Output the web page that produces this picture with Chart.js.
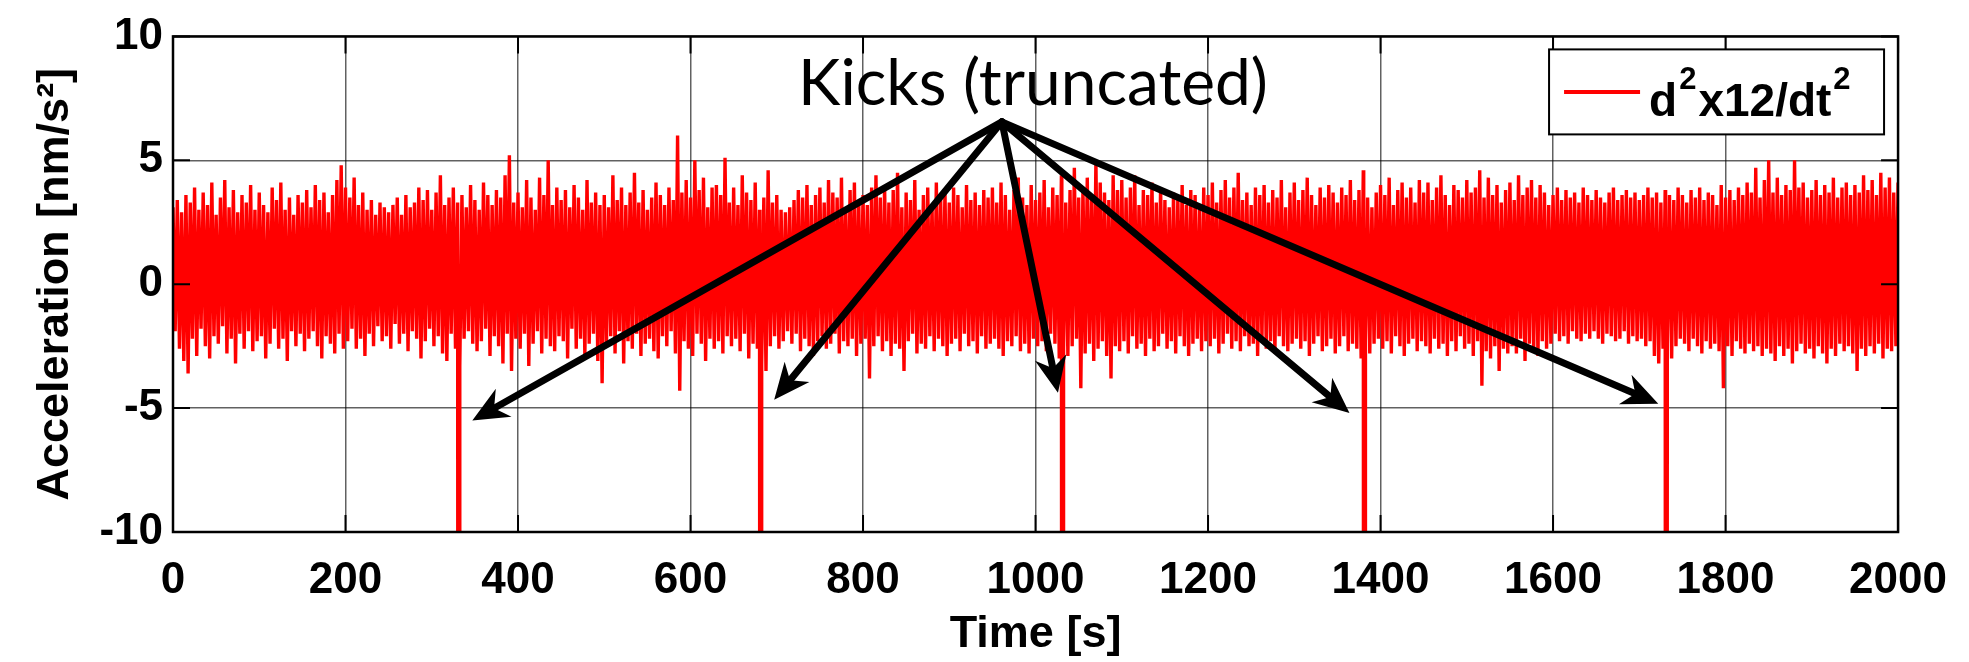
<!DOCTYPE html>
<html>
<head>
<meta charset="utf-8">
<script src="https://cdn.jsdelivr.net/npm/chart.js@4.4.1/dist/chart.umd.min.js"></script>
<style>
  html, body { margin: 0; padding: 0; background: #fff; }
  #wrap { width: 1969px; height: 662px; }
</style>
</head>
<body>
<div id="wrap"><canvas id="accelChart" width="1969" height="662"></canvas></div>
<script>
// spacing of the acceleration record (s)
const sampleStep = 2.5;

// d2x12/dt2 in nm/s^2, one value every sampleStep seconds from t = 0 s
const accel = [
  3.1,-1.9,3.4,-2.6,2.9,-3.1,3.6,-3.6,3.3,-2.2,3.9,-2.9,3.0,-1.8,3.7,-2.5,3.2,-3.0,4.1,-2.1,
  2.8,-2.4,3.5,-1.7,4.2,-2.8,3.1,-2.2,3.8,-3.2,2.9,-2.0,3.6,-2.6,3.3,-1.9,4.0,-2.7,3.0,-2.3,
  3.7,-2.1,3.2,-3.0,2.9,-2.4,3.9,-1.8,3.4,-2.6,4.1,-2.2,3.0,-3.1,3.5,-1.9,2.8,-2.5,3.6,-2.0,
  3.3,-2.7,3.8,-2.2,3.1,-1.9,4.0,-2.5,3.4,-3.0,3.7,-2.1,2.9,-2.4,3.6,-2.8,4.2,-2.0,4.8,-2.6,
  3.9,-2.3,3.5,-1.8,4.3,-2.6,3.2,-2.2,3.7,-2.9,3.0,-2.0,3.4,-2.5,2.8,-1.7,3.3,-2.3,3.1,-2.1,
  2.9,-2.6,3.2,-1.6,3.5,-2.4,2.8,-2.0,3.6,-2.7,3.1,-1.9,3.3,-2.2,3.9,-3.0,3.4,-2.3,3.8,-1.8,
  3.0,-2.5,3.7,-2.1,4.4,-2.8,3.2,-3.1,3.5,-2.0,3.9,-2.6,3.3,-3.3,3.6,-2.2,3.1,-1.9,4.0,-2.4,
  3.4,-2.7,3.0,-2.3,4.1,-1.8,3.6,-2.9,3.2,-2.1,3.8,-2.5,3.5,-3.2,4.4,-2.0,5.2,-3.5,3.3,-2.2,
  3.7,-2.6,3.1,-2.0,4.2,-3.3,3.5,-2.4,3.0,-1.9,4.3,-2.8,3.6,-2.2,5.0,-2.5,3.2,-2.7,3.9,-2.1,
  3.4,-2.3,3.8,-3.0,3.1,-1.8,4.0,-2.6,3.5,-2.2,3.0,-2.9,4.2,-2.4,3.3,-2.0,3.7,-3.1,3.2,-4.0,
  3.6,-2.5,3.1,-2.1,4.4,-2.8,3.4,-1.9,3.9,-3.2,3.2,-2.3,3.7,-2.6,4.5,-2.0,3.3,-2.9,3.8,-2.4,
  3.0,-2.2,3.5,-2.7,4.1,-3.0,3.6,-2.1,3.2,-2.5,3.9,-1.9,3.4,-2.8,6.0,-4.3,3.7,-2.3,4.2,-2.6,
  3.5,-2.9,5.0,-2.0,3.8,-2.4,4.3,-3.1,3.1,-2.2,3.9,-2.6,4.0,-2.3,3.6,-2.8,5.1,-2.1,3.3,-2.5,
  3.9,-2.2,3.2,-2.7,4.4,-2.0,3.7,-3.0,3.4,-2.4,4.1,-2.6,3.0,-3.2,3.5,-3.5,4.6,-2.5,3.3,-2.1,
  3.6,-2.6,3.0,-2.3,2.9,-1.9,3.1,-2.4,3.4,-2.0,3.8,-2.7,3.5,-2.2,4.0,-2.5,3.2,-2.9,3.6,-2.3,
  3.9,-2.1,3.3,-2.6,4.2,-2.4,3.7,-2.0,3.5,-2.8,4.3,-2.3,3.1,-2.5,3.8,-2.2,4.1,-2.9,3.4,-2.4,
  3.6,-2.2,3.2,-3.8,3.9,-2.5,4.4,-2.1,3.5,-2.7,4.0,-2.3,3.3,-2.9,3.8,-2.4,4.5,-2.6,3.1,-3.5,
  3.7,-2.3,3.4,-2.0,4.2,-2.8,3.0,-2.4,3.6,-2.6,3.9,-2.1,3.2,-2.7,4.1,-2.2,3.5,-2.5,3.8,-2.9,
  3.3,-2.4,3.9,-2.2,3.6,-2.7,3.1,-2.0,4.0,-2.5,3.4,-2.3,3.7,-2.8,3.2,-2.1,3.8,-2.6,3.5,-2.4,
  3.9,-2.2,3.3,-2.6,4.1,-2.9,3.6,-2.3,3.0,-2.5,3.8,-2.1,4.3,-2.7,3.5,-2.4,3.2,-2.8,4.0,-2.2,
  3.4,-2.5,3.7,-2.3,4.2,-2.7,3.1,-2.0,3.9,-2.4,3.6,-3.0,4.4,-2.6,3.3,-2.9,3.8,-2.5,4.7,-2.2,
  3.5,-4.2,3.9,-2.8,4.3,-2.4,3.6,-3.1,5.0,-2.6,4.1,-2.3,3.7,-2.9,3.4,-3.8,4.4,-2.5,3.8,-2.7,
  4.2,-2.3,3.5,-2.8,3.9,-2.1,4.4,-2.6,3.2,-2.4,3.8,-2.9,3.6,-2.2,4.1,-2.7,3.3,-2.5,3.9,-2.0,
  3.4,-2.6,3.1,-2.3,3.7,-2.8,3.5,-2.1,4.0,-2.5,3.2,-2.9,3.8,-2.4,3.6,-2.2,3.0,-2.7,3.9,-2.3,
  3.6,-2.5,4.1,-2.2,3.3,-2.8,3.8,-2.4,4.2,-2.0,3.5,-2.6,3.9,-2.3,4.5,-2.7,3.4,-2.1,3.7,-2.5,
  3.2,-2.4,3.9,-2.9,3.6,-2.2,4.0,-2.6,3.3,-2.3,3.8,-2.8,3.5,-2.1,4.2,-2.5,3.1,-2.7,3.7,-2.4,
  4.1,-2.2,3.4,-2.6,3.8,-2.3,4.3,-2.9,3.6,-2.4,3.2,-2.1,3.9,-2.7,3.5,-2.5,4.0,-2.2,3.7,-2.8,
  3.3,-2.5,3.9,-2.1,3.6,-2.7,4.2,-2.4,3.4,-2.6,3.8,-3.0,4.6,-2.3,3.5,-2.8,3.1,-2.4,3.7,-2.2,
  4.0,-2.6,3.6,-2.3,4.3,-2.8,3.2,-2.1,3.8,-2.5,4.1,-2.9,3.5,-2.4,3.9,-2.2,3.3,-2.7,4.2,-2.3,
  3.7,-2.5,4.1,-2.8,3.4,-2.2,3.9,-2.6,4.4,-2.4,3.6,-2.9,3.2,-2.3,4.0,-2.7,3.8,-2.1,3.5,-2.6,
  4.2,-2.4,3.7,-2.9,3.9,-2.3,4.6,-4.1,3.5,-2.7,4.3,-3.0,3.6,-2.5,4.0,-3.5,3.3,-2.6,3.8,-2.8,
  4.1,-2.5,3.4,-2.8,4.4,-2.2,3.6,-3.1,3.9,-2.4,4.2,-2.7,3.5,-2.9,4.0,-2.3,3.7,-2.6,3.2,-2.4,
  3.6,-2.0,3.9,-2.3,3.4,-2.1,3.8,-2.4,3.5,-1.9,3.7,-2.2,3.3,-2.3,3.9,-2.0,3.6,-2.2,3.4,-1.9,
  3.8,-2.2,3.5,-2.4,3.3,-2.0,3.7,-2.1,3.9,-2.3,3.4,-2.2,3.6,-1.9,3.8,-2.4,3.5,-2.1,3.7,-2.3,
  3.4,-2.2,3.6,-2.5,3.9,-2.3,3.5,-2.9,3.7,-3.2,3.3,-2.6,3.8,-2.4,3.6,-3.0,3.4,-2.5,3.9,-2.2,
  3.6,-2.4,3.3,-2.7,3.8,-2.2,3.5,-2.5,3.9,-2.8,3.4,-2.3,3.7,-2.6,3.6,-2.4,3.2,-2.7,4.0,-4.2,
  3.5,-2.5,3.8,-2.9,3.4,-2.3,3.9,-2.6,3.6,-2.8,4.1,-2.4,3.7,-2.7,4.7,-2.5,3.5,-2.9,4.2,-2.6,
  5.0,-2.8,3.7,-3.1,4.3,-2.5,3.6,-2.9,4.0,-2.6,3.8,-3.2,5.0,-2.7,3.9,-2.4,4.1,-2.8,3.5,-2.6,
  3.8,-3.0,4.2,-2.5,3.6,-2.8,4.0,-3.2,3.7,-2.6,4.3,-2.9,3.5,-2.4,3.9,-2.7,4.1,-2.5,3.6,-2.8,
  4.0,-3.5,3.7,-2.6,4.4,-2.9,3.8,-2.5,4.2,-2.8,3.6,-2.4,4.5,-3.0,3.9,-2.6,4.3,-2.7,3.7,-2.5,
  4.1
];

// the kicks go far below the axis and get cut off at -10 (two samples each)
const kickTimes = [330.5, 332, 680.5, 682, 1030.5, 1032, 1380.5, 1382, 1730.5, 1732];
const kickValues = [-40, -40, -40, -40, -40, -40, -40, -40, -40, -40];

// annotation: label and arrows pointing at each kick
const annotationText = "Kicks (truncated)";
const annotationPos = { t: 997, a: 7.25 };
const arrowFrom = { t: 961, a: 6.55 };
const arrowTipTimes = [347, 697, 1026, 1364, 1722];
const arrowTipValues = [-5.5, -4.66, -4.38, -5.2, -4.82];

const xTicks = [0, 200, 400, 600, 800, 1000, 1200, 1400, 1600, 1800, 2000];
const yTicks = [-10, -5, 0, 5, 10];

const seriesColor = "#ff0000";
const axisFont = { family: '"Liberation Sans", Arial, Helvetica, sans-serif', size: 44, weight: "bold" };

// merge the record with the kick samples
const points = accel.map((v, i) => ({ x: i * sampleStep, y: v }));
kickTimes.forEach((t, i) => points.push({ x: t, y: kickValues[i] }));
points.sort((a, b) => a.x - b.x);

// box, inward ticks, arrows, label and legend (matlab look)
const overlayPlugin = {
  id: "overlay",
  afterDatasetsDraw(chart) {
    const { ctx, chartArea: area, scales: { x, y } } = chart;
    ctx.save();

    // inward tick marks
    ctx.strokeStyle = "#000";
    ctx.lineWidth = 2;
    const tl = 17;
    ctx.beginPath();
    xTicks.forEach((v) => {
      const px = x.getPixelForValue(v);
      ctx.moveTo(px, area.bottom); ctx.lineTo(px, area.bottom - tl);
      ctx.moveTo(px, area.top); ctx.lineTo(px, area.top + tl);
    });
    yTicks.forEach((v) => {
      const py = y.getPixelForValue(v);
      ctx.moveTo(area.left, py); ctx.lineTo(area.left + tl, py);
      ctx.moveTo(area.right, py); ctx.lineTo(area.right - tl, py);
    });
    ctx.stroke();
    ctx.lineWidth = 2.5;
    ctx.strokeRect(area.left, area.top, area.right - area.left, area.bottom - area.top);

    // arrows
    const x0 = x.getPixelForValue(arrowFrom.t);
    const y0 = y.getPixelForValue(arrowFrom.a);
    ctx.fillStyle = "#000";
    ctx.lineWidth = 7;
    ctx.lineCap = "round";
    arrowTipTimes.forEach((t, i) => {
      const x1 = x.getPixelForValue(t);
      const y1 = y.getPixelForValue(arrowTipValues[i]);
      const ang = Math.atan2(y1 - y0, x1 - x0);
      const c = Math.cos(ang), s = Math.sin(ang);
      const headLen = 36, headHalf = 16, notch = 25;
      ctx.beginPath();
      ctx.moveTo(x0, y0);
      ctx.lineTo(x1 - c * notch, y1 - s * notch);
      ctx.stroke();
      ctx.beginPath();
      ctx.moveTo(x1, y1);
      ctx.lineTo(x1 - c * headLen - s * headHalf, y1 - s * headLen + c * headHalf);
      ctx.lineTo(x1 - c * notch, y1 - s * notch);
      ctx.lineTo(x1 - c * headLen + s * headHalf, y1 - s * headLen - c * headHalf);
      ctx.closePath();
      ctx.fill();
    });

    // annotation text
    ctx.font = '64px Lato, "Open Sans", sans-serif';
    ctx.textAlign = "center";
    ctx.textBaseline = "alphabetic";
    ctx.fillText(annotationText, x.getPixelForValue(annotationPos.t), y.getPixelForValue(annotationPos.a));

    // legend box in the upper right corner
    const bw = 335, bh = 85;
    const bx = area.right - 14 - bw, by = area.top + 13;
    ctx.fillStyle = "#fff";
    ctx.fillRect(bx, by, bw, bh);
    ctx.lineWidth = 2;
    ctx.lineCap = "butt";
    ctx.strokeStyle = "#000";
    ctx.strokeRect(bx, by, bw, bh);
    ctx.strokeStyle = seriesColor;
    ctx.lineWidth = 4;
    ctx.beginPath();
    ctx.moveTo(bx + 15, by + bh / 2);
    ctx.lineTo(bx + 91, by + bh / 2);
    ctx.stroke();

    const big = 'bold 46px "Liberation Sans", Arial, sans-serif';
    const sup = 'bold 31px "Liberation Sans", Arial, sans-serif';
    const base = by + 67;
    const parts = [["d", big, 0], ["2", sup, -27], ["x12/dt", big, 0], ["2", sup, -27]];
    let tx = bx + 100;
    ctx.fillStyle = "#000";
    ctx.textAlign = "left";
    parts.forEach(([txt, f, dy]) => {
      ctx.font = f;
      ctx.fillText(txt, tx, base + dy);
      tx += ctx.measureText(txt).width + 2;
    });

    ctx.restore();
  }
};

const ctx = document.getElementById("accelChart").getContext("2d");
new Chart(ctx, {
  type: "line",
  data: {
    datasets: [{
      label: "d²x12/dt²",
      data: points,
      borderColor: seriesColor,
      borderWidth: 3.4,
      pointRadius: 0,
      tension: 0,
      fill: false,
      borderJoinStyle: "bevel"
    }]
  },
  options: {
    responsive: false,
    animation: false,
    parsing: false,
    normalized: true,
    layout: { padding: { top: 30, right: 63, left: 0, bottom: 0 } },
    plugins: {
      legend: { display: false },
      tooltip: { enabled: false }
    },
    scales: {
      x: {
        type: "linear",
        min: 0,
        max: 2000,
        afterBuildTicks: (s) => { s.ticks = xTicks.map((v) => ({ value: v })); },
        afterFit: (s) => { s.height = 130; },
        grid: { color: "rgba(0,0,0,0.62)", lineWidth: 1.5, drawTicks: false },
        border: { display: false },
        ticks: {
          color: "#000",
          font: axisFont,
          padding: 22,
          maxRotation: 0,
          autoSkip: false,
          callback: (v) => String(v)
        },
        title: {
          display: true,
          text: "Time [s]",
          color: "#000",
          font: { family: axisFont.family, size: 45, weight: "bold" },
          padding: { top: 0, bottom: 0 }
        }
      },
      y: {
        type: "linear",
        min: -10,
        max: 10,
        afterBuildTicks: (s) => { s.ticks = yTicks.map((v) => ({ value: v })); },
        afterFit: (s) => { s.width = 173; },
        grid: { color: "rgba(0,0,0,0.62)", lineWidth: 1.5, drawTicks: false },
        border: { display: false },
        ticks: {
          color: "#000",
          font: axisFont,
          padding: 10,
          autoSkip: false,
          callback: (v) => String(v)
        },
        title: {
          display: true,
          text: "Acceleration [nm/s²]",
          color: "#000",
          font: { family: axisFont.family, size: 45, weight: "bold" },
          padding: { top: 29, bottom: 0 }
        }
      }
    }
  },
  plugins: [overlayPlugin]
});
</script>
</body>
</html>
